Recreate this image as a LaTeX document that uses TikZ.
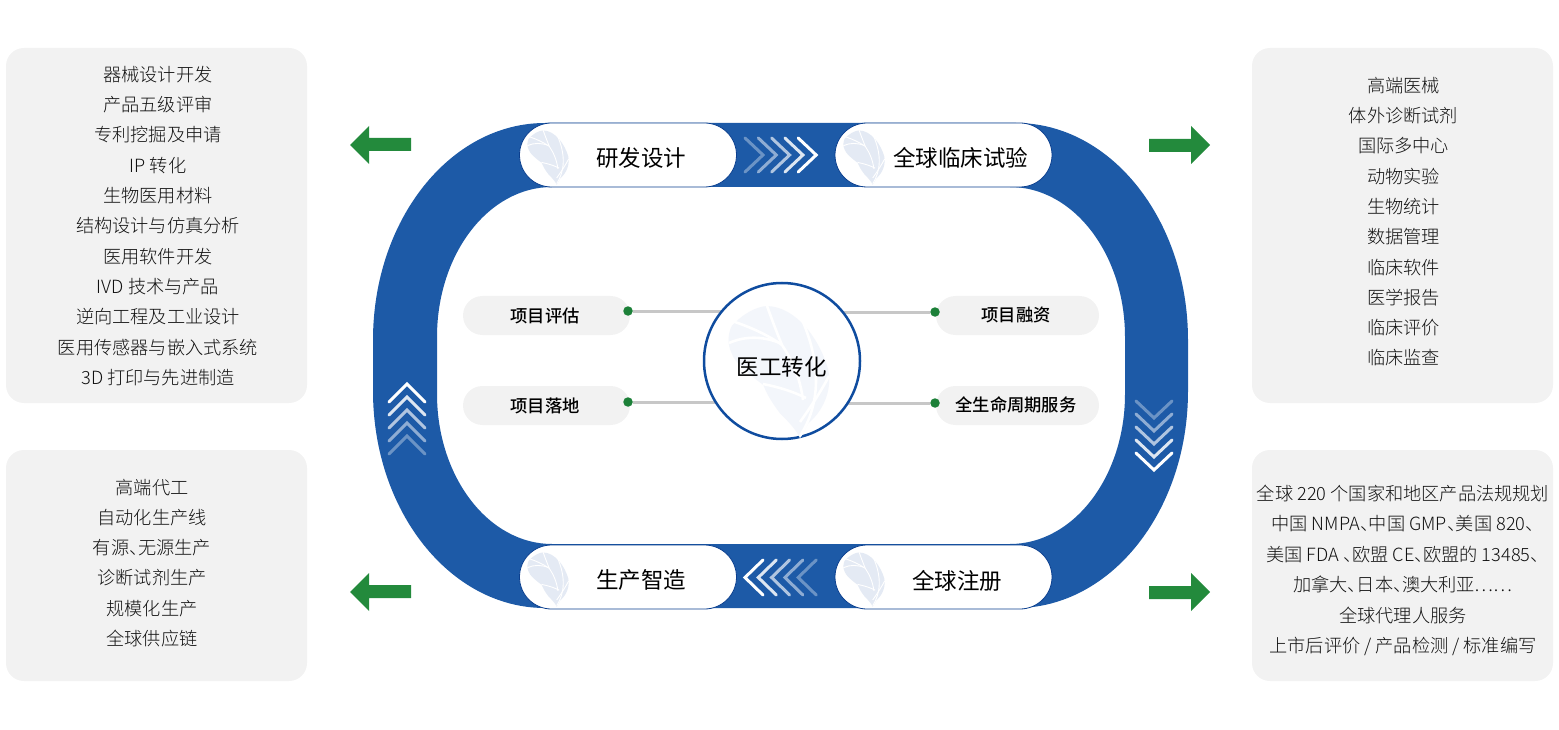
\documentclass[tikz,border=0pt]{standalone}
\usepackage{fontspec}
\usetikzlibrary{backgrounds}
\setmainfont{Noto Sans CJK SC}
\newfontfamily\lightcjk{Noto Sans CJK SC Light}
\newfontfamily\medcjk{Noto Sans CJK SC Medium}
\definecolor{ringblue}{HTML}{1D5AA7}
\definecolor{edgeblue}{HTML}{0B3F8F}
\definecolor{circblue}{HTML}{0F4C9F}
\definecolor{boxgray}{HTML}{F2F2F2}
\definecolor{arrgreen}{HTML}{238A3C}
\definecolor{dotgreen}{HTML}{1C8038}
\definecolor{txt}{HTML}{111111}
\definecolor{leafa}{HTML}{E4EAF4}
\definecolor{leafb}{HTML}{F3F6FB}
\newcommand{\dun}{、\kern-9.3pt\relax}
\tikzset{
  infobox/.style={fill=boxgray,rounded corners=18pt,minimum width=301pt,inner sep=0pt},
  listtext/.style={align=center,text=txt,inner sep=0pt,font=\lightcjk\fontsize{18.2}{#1}\selectfont},
  stage/.style={draw=edgeblue,line width=0.8pt,fill=white,rounded corners=32pt,minimum width=217pt,minimum height=64pt,inner sep=0pt},
  stagetext/.style={text=black,inner sep=0pt,font=\fontsize{22.5}{26}\selectfont},
  subpill/.style={fill=boxgray,rounded corners=19.5pt,minimum height=39pt,inner sep=0pt},
  subtext/.style={text=black,inner sep=0pt,font=\medcjk\fontsize{17.3}{20}\selectfont},
  greendot/.style={circle,fill=dotgreen,minimum size=9.5pt,inner sep=0pt},
  hubline/.style={draw=black!22,line width=3pt},
  chev/.style={draw=white,line width=3pt,line cap=round,line join=miter},
  greenarrow/.style={fill=arrgreen,draw=none}
}
\newcommand{\leafmark}[5]{% x y scale colour veinwidth
\begin{scope}[shift={(#1,#2)},scale=#3]
\fill[#4] (1.7,21) .. controls (13.3,8.3) and (26.7,1.7) .. (36.7,1)
 .. controls (66.7,1.7) and (90,35) .. (98.3,65)
 .. controls (103.3,91.7) and (86.7,111.7) .. (78.3,118.3)
 .. controls (75,123.3) and (73.3,128.3) .. (70,133.3)
 .. controls (66.7,125) and (56.7,115) .. (50,108.3)
 .. controls (40,95) and (36.7,88.3) .. (33.3,80)
 .. controls (20,70) and (5,58.3) .. (1.7,48.3)
 .. controls (-3.3,38.3) and (-1.7,28.3) .. (1.7,21) -- cycle;
\draw[white,line width=#5] (71.7,14) .. controls (92,60) and (90,100) .. (70,131);
\draw[white,line width=#5] (36.7,0) .. controls (42,15) and (47,28) .. (52,40) .. controls (62,55) and (70,72) .. (73,95);
\draw[white,line width=#5] (4,16.7) .. controls (20,22) and (38,30) .. (52,40);
\draw[white,line width=#5] (-1,38) .. controls (15,31) and (32,31) .. (50,38);
\draw[white,line width=#5] (33,79) .. controls (48,82) and (62,86) .. (76,93);
\draw[white,line width=#5] (99,71) .. controls (90,88) and (80,103) .. (70,117);
\end{scope}}
\begin{document}
\begin{tikzpicture}[x=1pt,y=-1pt]
\useasboundingbox (0,0) rectangle (1559,730);
% ring
\fill[ringblue,even odd rule]
 (373,340) arc[start angle=180,end angle=270,x radius=172,y radius=217] -- (1016,123)
 arc[start angle=270,end angle=360,x radius=172,y radius=217] -- (1188,391)
 arc[start angle=0,end angle=90,x radius=172,y radius=217] -- (545,608)
 arc[start angle=90,end angle=180,x radius=172,y radius=217] -- cycle
 (437,337) arc[start angle=180,end angle=270,x radius=115,y radius=150] -- (1010,187)
 arc[start angle=270,end angle=360,x radius=115,y radius=150] -- (1125,394)
 arc[start angle=0,end angle=90,x radius=115,y radius=150] -- (552,544)
 arc[start angle=90,end angle=180,x radius=115,y radius=150] -- cycle;
% boxes
\node[infobox,minimum height=355pt] (boxA) at (156.5,225.5) {};
\node[infobox,minimum height=231pt] (boxB) at (156.5,565.5) {};
\node[infobox,minimum height=355pt] (boxC) at (1402.5,225.5) {};
\node[infobox,minimum height=231pt] (boxD) at (1402.5,565.5) {};
\node[listtext=30.3] (listA) at (158,226) {器械设计开发\\产品五级评审\\专利挖掘及申请\\IP 转化\\生物医用材料\\结构设计与仿真分析\\医用软件开发\\IVD 技术与产品\\逆向工程及工业设计\\医用传感器与嵌入式系统\\3D 打印与先进制造};
\node[listtext=30.2] (listB) at (152,563) {高端代工\\自动化生产线\\有源\dun 无源生产\\诊断试剂生产\\规模化生产\\全球供应链};
\node[listtext=30.3] (listC) at (1403.5,221.7) {高端医械\\体外诊断试剂\\国际多中心\\动物实验\\生物统计\\数据管理\\临床软件\\医学报告\\临床评价\\临床监查};
\node[listtext=30.4] (listD) at (1403,570.5) {全球 220 个国家和地区产品法规规划\\中国 NMPA\dun 中国 GMP\dun 美国 820\dun\\美国 FDA \dun 欧盟 CE\dun 欧盟的 13485\dun\\加拿大\dun 日本\dun 澳大利亚……\\全球代理人服务\\上市后评价 / 产品检测 / 标准编写};
% stages
\node[stage] (s1) at (628,155) {};
\node[stage] (s2) at (943.5,155) {};
\node[stage] (s3) at (628,577) {};
\node[stage] (s4) at (943.5,577) {};
\leafmark{528}{130}{0.41}{leafa}{0.9pt}
\leafmark{844}{130}{0.41}{leafa}{0.9pt}
\leafmark{528}{552}{0.41}{leafa}{0.9pt}
\leafmark{844}{552}{0.41}{leafa}{0.9pt}
\node[stagetext] (t1) at (641,158) {研发设计};
\node[stagetext] (t2) at (960.5,158) {全球临床试验};
\node[stagetext] (t3) at (641,580) {生产智造};
\node[stagetext] (t4) at (957,581) {全球注册};
% chevrons
\foreach \i/\o in {0/.35,1/.5,2/.65,3/.85,4/1}{
 \draw[chev,opacity=\o] ({745+13.3*\i},138) -- ({763+13.3*\i},155) -- ({745+13.3*\i},172);
 \draw[chev,opacity=\o] ({763+13.3*(4-\i)},560) -- ({745+13.3*(4-\i)},577.5) -- ({763+13.3*(4-\i)},595);
 \draw[chev,opacity=\o] (389,{402+13*(4-\i)}) -- (407,{384+13*(4-\i)}) -- (425,{402+13*(4-\i)});
 \draw[chev,opacity=\o] (1136,{401+13*\i}) -- (1154,{418+13*\i}) -- (1172,{401+13*\i});
}
% sub pills
\node[subpill,minimum width=167pt] (p1) at (546.5,315.5) {};
\node[subpill,minimum width=167pt] (p2) at (546.5,405.5) {};
\node[subpill,minimum width=163pt] (p3) at (1017.5,315.5) {};
\node[subpill,minimum width=163pt] (p4) at (1017.5,405.5) {};
\node[subtext] (q1) at (545,316) {项目评估};
\node[subtext] (q2) at (545,406) {项目落地};
\node[subtext] (q3) at (1016,315) {项目融资};
\node[subtext] (q4) at (1016,405) {全生命周期服务};
% hub
\node[circle,draw=circblue,line width=2.5pt,fill=white,minimum size=156pt,inner sep=0pt] (hub) at (782,361) {};
\leafmark{730}{305}{1}{leafb}{2.6pt}
\node[stagetext] (hubtext) at (781.5,367) {医工转化};
\node[greendot] (d1) at (628,311) {};
\node[greendot] (d2) at (628,402) {};
\node[greendot] (d3) at (935,312) {};
\node[greendot] (d4) at (935,403) {};
\begin{scope}[on background layer]
\draw[hubline] (d1) -- (d1 -| hub);
\draw[hubline] (d2) -- (d2 -| hub);
\draw[hubline] (d3) -- (d3 -| hub);
\draw[hubline] (d4) -- (d4 -| hub);
\end{scope}
% green arrows
\fill[greenarrow] (350,145) -- (369,126) -- (369,138) -- (411,138) -- (411,151) -- (369,151) -- (369,164) -- cycle;
\fill[greenarrow] (350,592) -- (369,573) -- (369,585) -- (411,585) -- (411,598) -- (369,598) -- (369,611) -- cycle;
\fill[greenarrow] (1210,145) -- (1191,126) -- (1191,139) -- (1149,139) -- (1149,152) -- (1191,152) -- (1191,164) -- cycle;
\fill[greenarrow] (1210,592) -- (1191,573) -- (1191,586) -- (1149,586) -- (1149,599) -- (1191,599) -- (1191,611) -- cycle;
\end{tikzpicture}
\end{document}
